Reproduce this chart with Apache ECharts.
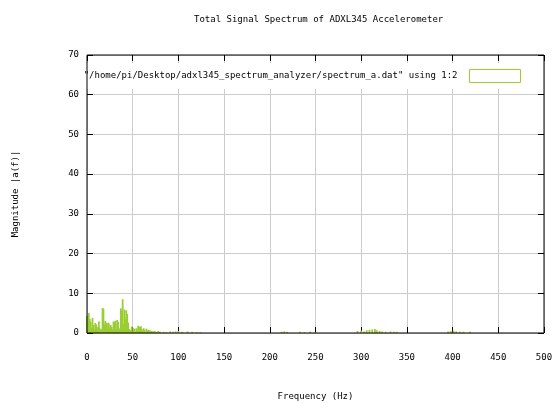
<!DOCTYPE html>
<html>
<head>
<meta charset="utf-8">
<script src="https://cdn.jsdelivr.net/npm/echarts@6/dist/echarts.min.js"></script>
<style>
  html, body { margin: 0; padding: 0; background: #fff; }
  #main { width: 553px; height: 403px; }
</style>
</head>
<body>
<div id="main"></div>
<script>
// spectrum (Hz, |a(f)|)
const freqHz = [
  0, 1, 2, 3, 4, 5, 6, 7, 8, 9, 10, 11, 12, 13, 14, 15, 16, 17, 18, 19,
  20, 21, 22, 23, 24, 25, 26, 27, 28, 29, 30, 31, 32, 33, 34, 35, 36, 37, 38, 39,
  40, 41, 42, 43, 44, 45, 46, 47, 48, 49, 50, 51, 52, 53, 54, 55, 56, 57, 58, 59,
  60, 61, 62, 63, 64, 65, 66, 67, 68, 69, 70, 71, 72, 73, 74, 75, 76, 77, 78, 79, 80,
  84, 87, 91, 94, 97, 100, 104, 110, 115, 120, 124,
  213, 216, 219, 233, 238, 244, 250,
  296, 300, 303, 306, 309, 312, 315, 317, 320, 323, 327, 332, 336, 339,
  395, 398, 401, 404, 408, 412, 419
];
const magnitude = [
  4.3, 2.0, 5.0, 3.5, 2.9, 1.2, 3.8, 2.0, 1.0, 2.5, 2.2, 0.8, 1.5, 2.9, 1.2, 0.6, 1.0, 6.3, 6.1, 2.0,
  3.0, 2.6, 0.9, 2.6, 2.4, 1.3, 2.0, 1.5, 0.8, 2.9, 2.7, 3.1, 1.0, 3.3, 2.8, 1.2, 0.6, 6.2, 5.6, 8.5,
  2.2, 5.9, 3.5, 5.7, 4.8, 2.6, 1.0, 0.5, 0.8, 1.6, 0.4, 1.2, 1.0, 0.3, 1.2, 0.6, 1.8, 1.6, 0.5, 1.7,
  1.0, 0.4, 1.2, 0.8, 0.3, 1.1, 0.5, 0.8, 0.2, 0.7, 0.3, 0.5, 0.1, 0.4, 0.5, 0.1, 0.3, 0.1, 0.5, 0.1, 0.3,
  0.3, 0.2, 0.4, 0.3, 0.4, 0.5, 0.3, 0.4, 0.3, 0.2, 0.2,
  0.3, 0.4, 0.3, 0.3, 0.2, 0.3, 0.2,
  0.5, 0.6, 0.4, 0.7, 0.8, 0.9, 1.0, 0.7, 0.5, 0.4, 0.3, 0.4, 0.3, 0.3,
  0.4, 0.5, 0.6, 0.4, 0.3, 0.3, 0.3
];
const seriesName = '"/home/pi/Desktop/adxl345_spectrum_analyzer/spectrum_a.dat" using 1:2';

const font = 'DejaVu Sans Mono';
const green = '#9acd32';

const chart = echarts.init(document.getElementById('main'));

const data = freqHz.map((f, i) => [f, magnitude[i]]);

// mirror axes: ticks only, kept on the opposite border
const tickOnly = {
  axisLine: { show: false, onZero: false },
  axisTick: { show: true, inside: true, length: 6, lineStyle: { color: '#000', width: 1 } },
  axisLabel: { show: false },
  splitLine: { show: false }
};

chart.setOption({
  animation: false,
  title: {
    text: 'Total Signal Spectrum of ADXL345 Accelerometer',
    left: 189,
    top: 10,
    textStyle: { fontFamily: font, fontSize: 9, fontWeight: 'normal', color: '#000' }
  },
  grid: {
    left: 87, right: 9, top: 55, bottom: 70,
    outerBoundsMode: 'none',
    containLabel: false,
    show: true, z: 10,
    borderColor: '#000', borderWidth: 1,
    backgroundColor: 'transparent'
  },
  legend: {
    data: [{
      name: seriesName,
      icon: 'rect',
      itemStyle: { color: '#fff', borderColor: green, borderWidth: 1 }
    }],
    top: 63,
    right: 23,
    align: 'right',
    itemWidth: 51,
    itemHeight: 13,
    padding: [6, 9, 6, 4],
    backgroundColor: '#fff',
    textStyle: { fontFamily: font, fontSize: 9, color: '#000', padding: [0, 7, 0, 0] }
  },
  xAxis: [
    {
      type: 'value',
      min: 0, max: 500, interval: 50,
      name: 'Frequency (Hz)',
      nameLocation: 'middle',
      nameGap: 59,
      nameTextStyle: { fontFamily: font, fontSize: 9, color: '#000' },
      axisLine: { show: false, onZero: false },
      axisTick: { show: true, inside: true, length: 6, lineStyle: { color: '#000' } },
      axisLabel: { fontFamily: font, fontSize: 9, color: '#000', margin: 20 },
      splitLine: { show: true, lineStyle: { color: '#cccccc', width: 1 } }
    },
    Object.assign({ type: 'value', position: 'top', min: 0, max: 500, interval: 50 }, tickOnly)
  ],
  yAxis: [
    {
      type: 'value',
      min: 0, max: 70, interval: 10,
      name: 'Magnitude |a(f)|',
      nameLocation: 'middle',
      nameGap: 67,
      nameTextStyle: { fontFamily: font, fontSize: 9, color: '#000' },
      axisLine: { show: false, onZero: false },
      axisTick: { show: true, inside: true, length: 6, lineStyle: { color: '#000' } },
      axisLabel: { fontFamily: font, fontSize: 9, color: '#000', margin: 8 },
      splitLine: { show: true, lineStyle: { color: '#cccccc', width: 1 } }
    },
    Object.assign({ type: 'value', position: 'right', min: 0, max: 70, interval: 10 }, tickOnly)
  ],
  series: [{
    name: seriesName,
    type: 'bar',
    data,
    barWidth: 1.8,
    itemStyle: { color: green },
    z: 3
  }]
});
</script>
</body>
</html>
